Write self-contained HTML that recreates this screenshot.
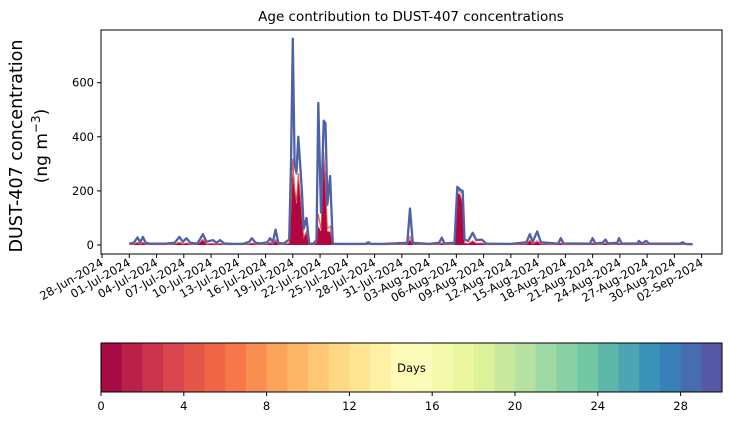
<!DOCTYPE html>
<html><head><meta charset="utf-8"><style>
body{margin:0;background:#fff;}
svg{display:block;font-family:"DejaVu Sans","Liberation Sans",sans-serif;}
</style></head><body>
<svg id="c" width="730" height="425" viewBox="0 0 730 425">
<text x="411" y="21" font-size="13.5" text-anchor="middle">Age contribution to DUST-407 concentrations</text>
<text transform="translate(22,146) rotate(-90)" font-size="17.5" text-anchor="middle">DUST-407 concentration</text>
<text transform="translate(47,146) rotate(-90)" font-size="17" text-anchor="middle">(ng m<tspan font-size="12" dy="-7">−3</tspan><tspan dy="7">)</tspan></text>
<g id="plot"></g>
</svg>
<script>
// data: days since 01-Jul-2024 00:00
const days  = [0,0.5,0.9,1.2,1.5,1.8,2.2,3,4,5.0,5.5,5.9,6.3,6.7,7.5,8.1,8.5,9.2,9.6,10.0,10.4,10.8,11.5,12.5,13.2,13.5,13.9,14.5,15.2,15.5,15.8,16.1,16.4,17.0,17.6,17.8,18.0,18.2,18.4,18.6,18.8,19.0,19.2,19.5,19.8,20.3,20.6,20.8,21.1,21.4,21.6,21.8,22.1,22.4,23,26.0,26.3,26.6,28,30.6,30.9,31.2,33,34.1,34.4,34.7,35.8,36.1,36.4,36.7,36.9,37.3,37.8,38.2,38.8,39.3,42,43.7,44.1,44.4,44.9,45.3,47.2,47.5,47.8,50.7,51.0,51.3,52.1,52.4,52.7,53.7,53.9,54.2,55.9,56.1,56.4,56.9,57.2,60.6,60.9,61.2,62.0];
const total = [5,8,28,10,30,8,5,5,5,8,30,12,25,8,5,40,12,18,8,18,6,5,4,4,12,25,8,6,10,25,10,57,8,5,20,300,763,300,270,400,300,200,60,100,5,5,20,525,120,460,450,150,255,5,4,4,10,4,4,8,135,8,4,8,27,6,8,215,205,200,20,15,45,18,20,5,4,10,40,12,50,10,5,25,6,5,25,6,8,20,6,8,25,6,5,15,5,15,5,5,10,4,3];
const young = [1,2,8,2,8,2,1,1,1,2,8,3,6,2,1,18,3,4,2,4,1,1,1,1,3,6,2,1,3,8,3,15,2,1,6,120,270,200,150,250,180,100,25,45,1,1,8,70,50,330,200,50,50,1,1,1,2,1,1,2,20,2,1,2,6,1,2,190,185,150,6,4,12,5,6,1,1,3,15,4,12,3,1,6,1,1,6,1,2,6,1,2,5,1,1,4,1,4,1,1,2,1,1];
const yTicks = [0,200,400,600];
const xTickLabels = ["28-Jun-2024","01-Jul-2024","04-Jul-2024","07-Jul-2024","10-Jul-2024","13-Jul-2024","16-Jul-2024","19-Jul-2024","22-Jul-2024","25-Jul-2024","28-Jul-2024","31-Jul-2024","03-Aug-2024","06-Aug-2024","09-Aug-2024","12-Aug-2024","15-Aug-2024","18-Aug-2024","21-Aug-2024","24-Aug-2024","27-Aug-2024","30-Aug-2024","02-Sep-2024"];
const xTickDays = [-3,0,3,6,9,12,15,18,21,24,27,30,33,36,39,42,45,48,51,54,57,60,63];
const cbTicks = [0,4,8,12,16,20,24,28];

const NS="http://www.w3.org/2000/svg";
const L=101,R=722,T=30,B=254;
const X=d=>129.3+d*9.085;
const Y=v=>245-v*0.2705;
const g=document.getElementById('plot');
function mk(tag,at,parent){const e=document.createElementNS(NS,tag);for(const k in at)e.setAttribute(k,at[k]);(parent||g).appendChild(e);return e;}

function pts(arr){return days.map((d,i)=>X(d).toFixed(1)+','+Y(arr[i]).toFixed(1));}
const ya=mk('path',{d:'M'+X(days[0])+','+Y(0)+' L'+pts(young).join(' L')+' L'+X(days[days.length-1])+','+Y(0)+'Z',fill:'#b0073f'});


const mid=days.map((d,i)=>young[i]+(total[i]-young[i])*0.1);
const ma=mk('polyline',{points:pts(mid).join(' '),fill:'none',stroke:'#e8554a','stroke-width':1});


const tl2=mk('polyline',{points:pts(total.map(v=>v*0.96)).join(' '),fill:'none',stroke:'#5ab4ac','stroke-width':1.5});


const tl=mk('polyline',{points:pts(total).join(' '),fill:'none',stroke:'#4f61a8','stroke-width':2.3,'stroke-linejoin':'round'});



const fr=mk('rect',{x:L,y:T,width:R-L,height:B-T,fill:'none',stroke:'#000','stroke-width':1});



yTicks.forEach(v=>{
  mk('line',{x1:L-4,x2:L,y1:Y(v),y2:Y(v),stroke:'#000'});
  const t=mk('text',{x:L-7,y:Y(v)+4,'font-size':11.5,'text-anchor':'end'});t.textContent=v;
  
  
});
xTickLabels.forEach((s,i)=>{
  const x=X(xTickDays[i]);
  mk('line',{x1:x,x2:x,y1:B,y2:B+4,stroke:'#000'});
  const t=mk('text',{transform:`translate(${x+2},${B+11}) rotate(-30)`,'font-size':11.5,'text-anchor':'end'});t.textContent=s;
  
  
});

const sp=[[158,1,66],[213,62,79],[244,109,67],[253,174,97],[254,224,139],[255,255,191],[230,245,152],[171,221,164],[102,194,165],[50,136,189],[94,79,162]];
function spec(t){const p=t*10,i=Math.min(9,Math.floor(p)),f=p-i;return 'rgb('+sp[i].map((c,k)=>Math.round(c+(sp[i+1][k]-c)*f)).join(',')+')';}
const cL=101,cR=722,cT=343,cB=392,cw=(cR-cL)/30;
for(let i=0;i<30;i++){
  const r=mk('rect',{x:cL+i*cw,y:cT,width:cw+0.5,height:cB-cT,fill:spec((i+0.5)/30)});
  
  
}
const cf=mk('rect',{x:cL,y:cT,width:cR-cL,height:cB-cT,fill:'none',stroke:'#000'});


const cl=mk('text',{x:(cL+cR)/2,y:372,'font-size':11.5,'text-anchor':'middle'});cl.textContent='Days';


cbTicks.forEach(v=>{
  const x=cL+v*cw;
  mk('line',{x1:x,x2:x,y1:cB,y2:cB+4,stroke:'#000'});
  const t=mk('text',{x:x,y:cB+18,'font-size':11.5,'text-anchor':'middle'});t.textContent=v;
  
  
});
</script>
</body></html>
